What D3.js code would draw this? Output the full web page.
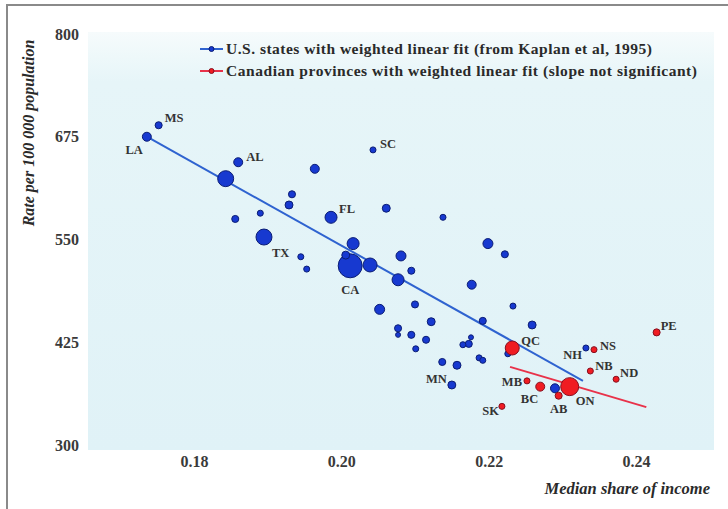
<!DOCTYPE html>
<html>
<head>
<meta charset="utf-8">
<script src="https://cdn.jsdelivr.net/npm/d3@7"></script>
<style>
  body { margin: 0; background: #fff; }
  svg { display: block; }
</style>
</head>
<body>
<svg width="728" height="509"></svg>
<script>
// US states (Kaplan et al, 1995) - only some are labelled in the figure
var usStates = ["MS", "LA", "AL", "", "", "", "", "", "TX", "SC", "", "FL", "", "", "", "", "CA", "", "", "",
  "", "", "", "", "", "", "", "", "", "", "", "", "", "", "", "", "", "", "", "",
  "", "", "", "", "", "MN", "NH", ""];
var usShare = [0.1752, 0.1736, 0.1860, 0.1843, 0.1933, 0.1929, 0.1856, 0.1890, 0.1895, 0.2043,
  0.1964, 0.1986, 0.2061, 0.2016, 0.1945, 0.1953, 0.2012, 0.2039, 0.2081, 0.2095,
  0.2077, 0.2006, 0.2138, 0.2199, 0.2222, 0.2177, 0.2052, 0.2100, 0.2233, 0.2122,
  0.2192, 0.2259, 0.2077, 0.2077, 0.2095, 0.2115, 0.2176, 0.2173, 0.2165, 0.2101,
  0.2137, 0.2157, 0.2187, 0.2192, 0.2226, 0.2150, 0.2332, 0.2290];
var usRate = [689, 675, 644, 624, 605, 592, 575, 582, 553, 659,
  636, 577, 588, 545, 529, 514, 518, 519, 530, 512,
  501, 531, 577, 545, 532, 495, 465, 471, 469, 450,
  451, 446, 442, 434, 434, 428, 431, 423, 422, 417,
  401, 397, 406, 403, 411, 373, 418, 369];
var usPop = [2.6, 4.2, 4.2, 13.3, 2.6, 3.3, 2.6, 1.9, 13.3, 1.9,
  4.2, 7.5, 3.3, 7.5, 1.9, 1.9, 30, 10.2, 5.2, 2.6,
  7.5, 3.3, 1.9, 5.2, 2.6, 4.2, 5.2, 2.6, 1.9, 3.3,
  2.6, 3.3, 2.6, 1.3, 2.6, 2.6, 1.3, 2.6, 1.9, 1.9,
  2.6, 3.3, 1.9, 1.9, 1.9, 3.3, 1.9, 4.2];

// Canadian provinces
var caProvinces = ["QC", "MB", "BC", "AB", "ON", "NS", "NB", "ND", "PE", "SK"];
var caShare = [0.2232, 0.2252, 0.2270, 0.2295, 0.2310, 0.2343, 0.2338, 0.2373, 0.2428, 0.2218];
var caRate = [418, 378, 371, 360, 371, 416, 390, 380, 437, 347];
var caPop = [10.2, 1.9, 4.2, 2.6, 16.9, 1.9, 1.9, 1.9, 2.6, 1.9];

// weighted linear fits: [intercept, slope] and x range covered
var usFit = [1546, -5017];
var usFitRange = [0.1736, 0.2328];
var caFit = [985.5, -2649];
var caFitRange = [0.2229, 0.2414];

var xTicks = [0.18, 0.20, 0.22, 0.24];
var yTicks = [300, 425, 550, 675, 800];

var legendLabels = [
  "U.S. states with weighted linear fit (from Kaplan et al, 1995)",
  "Canadian provinces with weighted linear fit (slope not significant)"
];

var blue = "#1739d0", blueDark = "#0b1d74", blueLine = "#2f63d0";
var red = "#f01c22", redDark = "#861020", redLine = "#e8324a";
var serif = "'Liberation Serif', 'DejaVu Serif', serif";

var svg = d3.select("svg");

// page frame + tinted plot panel
var defs = svg.append("defs");
var grad = defs.append("linearGradient").attr("id", "panel")
  .attr("x1", 0).attr("y1", 0).attr("x2", 0).attr("y2", 1);
grad.append("stop").attr("offset", "0").attr("stop-color", "#f6fbfc");
grad.append("stop").attr("offset", "0.12").attr("stop-color", "#e6f5f8");
grad.append("stop").attr("offset", "1").attr("stop-color", "#e0f2f7");

svg.append("rect").attr("x", 88).attr("y", 32).attr("width", 626).attr("height", 418)
  .attr("fill", "url(#panel)");
svg.append("path").attr("d", "M7,509V5H728")
  .attr("fill", "none").attr("stroke", "#8a8a8a").attr("stroke-width", 2);

var x = d3.scaleLinear().domain([0.18, 0.24]).range([194, 636]);
var y = d3.scaleLinear().domain([300, 800]).range([445, 34]);
var r = d3.scaleSqrt().domain([0, 30]).range([0, 12]);

// axes (labels only)
var xAxis = svg.append("g").attr("transform", "translate(0,445)")
  .call(d3.axisBottom(x).tickValues(xTicks).tickSize(0).tickPadding(11).tickFormat(d3.format(".2f")));
var yAxis = svg.append("g").attr("transform", "translate(80,0)")
  .call(d3.axisLeft(y).tickValues(yTicks).tickSize(0).tickPadding(1));
[xAxis, yAxis].forEach(function (a) {
  a.select(".domain").remove();
  a.selectAll("text").attr("font-family", serif).attr("font-weight", "bold")
    .attr("font-size", 16).attr("fill", "#3a3a3a");
});

svg.append("text")
  .attr("transform", "translate(34,133) rotate(-90)")
  .attr("text-anchor", "middle")
  .attr("font-family", serif).attr("font-style", "italic").attr("font-weight", "bold")
  .attr("font-size", 16).attr("fill", "#2a2a2a")
  .text("Rate per 100 000 population");

svg.append("text")
  .attr("x", 710).attr("y", 494)
  .attr("text-anchor", "end")
  .attr("font-family", serif).attr("font-style", "italic").attr("font-weight", "bold")
  .attr("font-size", 16.5).attr("fill", "#2a2a2a")
  .text("Median share of income");

// fit lines
function fitLine(fit, range, color) {
  svg.append("line")
    .attr("x1", x(range[0])).attr("y1", y(fit[0] + fit[1] * range[0]))
    .attr("x2", x(range[1])).attr("y2", y(fit[0] + fit[1] * range[1]))
    .attr("stroke", color).attr("stroke-width", 2);
}
fitLine(usFit, usFitRange, blueLine);
fitLine(caFit, caFitRange, redLine);

// points
function makePoints(names, share, rate, pop) {
  return names.map(function (n, i) {
    return { name: n, share: share[i], rate: rate[i], pop: pop[i] };
  });
}
var us = makePoints(usStates, usShare, usRate, usPop);
var ca = makePoints(caProvinces, caShare, caRate, caPop);

function drawPoints(data, fill, stroke) {
  svg.append("g").selectAll("circle")
    .data(data.slice().sort(function (a, b) { return b.pop - a.pop; }))
    .enter()
    .append("circle")
    .attr("cx", function (d) { return x(d.share); })
    .attr("cy", function (d) { return y(d.rate); })
    .attr("r", function (d) { return r(d.pop); })
    .attr("fill", fill)
    .attr("stroke", stroke)
    .attr("stroke-width", 1);
}
drawPoints(us, blue, blueDark);
drawPoints(ca, red, redDark);

// label placement relative to each point: [dx, dy, anchor]
var labelPos = {
  MS: [6, -3, "start"], LA: [-4, 17, "end"], AL: [8, -1, "start"], SC: [7, -2, "start"],
  FL: [8, -4, "start"], TX: [8, 20, "start"], CA: [0, 28, "middle"], MN: [-5, -2, "end"],
  NH: [-4, 11, "end"], QC: [9, -3, "start"], MB: [-5, 5, "end"], BC: [-2, 16, "end"],
  AB: [0, 17, "middle"], ON: [6, 18, "start"], NS: [6, 0, "start"], NB: [5, -1, "start"],
  ND: [4, -2, "start"], PE: [4, -2, "start"], SK: [-3, 9, "end"]
};

svg.append("g").selectAll("text")
  .data(us.concat(ca).filter(function (d) { return d.name !== ""; }))
  .enter()
  .append("text")
  .attr("x", function (d) { return x(d.share) + labelPos[d.name][0]; })
  .attr("y", function (d) { return y(d.rate) + labelPos[d.name][1]; })
  .attr("text-anchor", function (d) { return labelPos[d.name][2]; })
  .attr("font-family", serif).attr("font-weight", "bold")
  .attr("font-size", 12.5).attr("fill", "#333")
  .text(function (d) { return d.name; });

// legend
var legend = svg.append("g").attr("transform", "translate(200,49)");
var legendColors = [[blueLine, blue, blueDark], [redLine, red, redDark]];
var legendWidths = [426, 471];
legendLabels.forEach(function (t, i) {
  var g = legend.append("g").attr("transform", "translate(0," + i * 22 + ")");
  g.append("line").attr("x1", 0).attr("x2", 23).attr("y1", 0).attr("y2", 0)
    .attr("stroke", legendColors[i][0]).attr("stroke-width", 2);
  g.append("circle").attr("cx", 11.5).attr("cy", 0).attr("r", 2.5)
    .attr("fill", legendColors[i][1]).attr("stroke", legendColors[i][2]);
  g.append("text").attr("x", 26).attr("y", 5)
    .attr("font-family", serif).attr("font-weight", "bold")
    .attr("font-size", 15.5).attr("fill", "#2a2a2a")
    .attr("textLength", legendWidths[i]).attr("lengthAdjust", "spacing")
    .text(t);
});
</script>
</body>
</html>
